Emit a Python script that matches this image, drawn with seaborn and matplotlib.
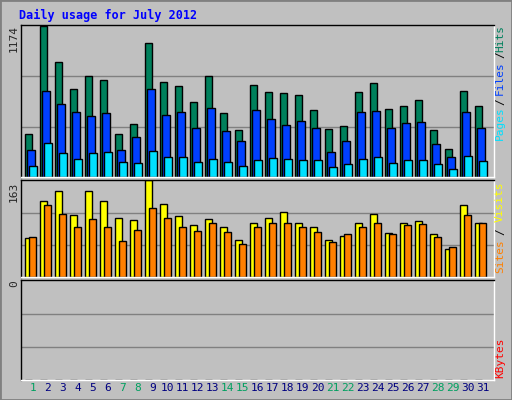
import matplotlib
matplotlib.use("Agg")
import matplotlib.pyplot as plt
import seaborn as sns
import numpy as np

days = list(range(1, 32))
Z = 1174 / 440.0
hits_px = [343,28,133,211,175,187,343,313,79,193,202,250,175,283,331,199,
           220,223,229,274,328,319,220,196,271,262,244,331,385,217,262]
files_px = [388,217,256,280,292,283,388,352,211,289,280,325,268,334,364,274,
            298,316,304,325,394,364,280,277,325,310,307,373,409,280,325]
pages_px = [436,370,397,415,397,394,424,427,391,409,409,424,415,424,436,418,
            412,415,418,418,439,430,415,409,427,418,418,430,445,406,421]
visits_px = [658,550,523,592,523,550,601,607,493,559,595,622,604,628,664,616,
             601,583,613,625,664,652,616,589,643,613,610,646,688,565,613]
sites_px = [655,562,589,625,604,628,667,634,571,601,625,637,616,640,676,628,
            616,616,628,640,670,646,628,613,646,622,619,655,685,592,616]
hits = [round((468 - v) * Z) for v in hits_px]
files = [round((468 - v) * Z) for v in files_px]
pages = [round((468 - v) * Z) for v in pages_px]
visits = [round((770 - v) / 277 * 163) for v in visits_px]
sites = [round((770 - v) / 277 * 163) for v in sites_px]
kbytes = [0] * 31
weekend = [1, 7, 8, 14, 15, 21, 22, 28, 29]

sns.set_style("white")
plt.rcParams['font.family'] = ['DejaVu Sans Mono']
BG = "#C0C0C0"
fig = plt.figure(figsize=(5.12, 4.0), dpi=100, facecolor=BG)
fig.patches.append(plt.Rectangle((0, 0), 1, 1, transform=fig.transFigure,
                                 fill=False, edgecolor="#808080", lw=2))
L, W = 21/512, 473/512
ax1 = fig.add_axes([L, 1-177/400, W, 152/400])
ax2 = fig.add_axes([L, 1-277/400, W, 97/400])
ax3 = fig.add_axes([L, 1-380/400, W, 100/400])
x = np.array(days, dtype=float)
bw = 0.49
kw = dict(width=bw, align="edge", edgecolor="black", linewidth=1)
ax1.bar(x, hits, color="#00805C", **kw)
ax1.bar(x + 0.153, files, color="#0040FF", **kw)
ax1.bar(x + 0.287, pages, color="#00E0FF", **kw)
ax2.bar(x, visits, color="#FFFF00", **kw)
ax2.bar(x + 0.27, sites, color="#FF8000", **kw)
ax3.bar(x, kbytes, color="#FF0000", **kw)
for ax, top in [(ax1, 1174), (ax2, 163), (ax3, 1)]:
    ax.set_facecolor(BG)
    ax.set_xlim(1 - 4/15, 1 + 469/15)
    ax.set_ylim(0, top * 1.005)
    for f in (1/3, 2/3):
        ax.axhline(top * f, color="#808080", lw=1, zorder=0)
    ax.set_xticks([]); ax.set_yticks([])
    for s in ax.spines.values():
        s.set_color("black"); s.set_linewidth(1)
    ax.spines['right'].set_color("white"); ax.spines['bottom'].set_color("white")
for d in days:
    ax3.text(d + 0.53, -0.08, str(d), transform=ax3.get_xaxis_transform(),
             ha="center", va="center", fontsize=8,
             color="#00A060" if d in weekend else "#000080")
fig.text(19/512, 1-15/400, "Daily usage for July 2012", color="#0000FF",
         fontsize=8.5, fontweight="bold", va="center")
for txt, y in [("1174", 38), ("163", 192), ("0", 284)]:
    fig.text(14/512, 1-y/400, txt, rotation=90, ha="center", va="center", fontsize=8)
for txt, y, c in [("Hits", 38, "#00805C"), ("/", 55, "#000000"), ("Files", 78, "#0040FF"),
                  ("/", 102, "#000000"), ("Pages", 123, "#00E0FF"),
                  ("Visits", 202, "#FFFF00"), ("/", 232, "#000000"), ("Sites", 256, "#FF8000"),
                  ("KBytes", 358, "#FF0000")]:
    fig.text(500/512, 1-y/400, txt, rotation=90, ha="center", va="center", fontsize=8, color=c)
fig.savefig("out.png", dpi=100, facecolor=BG)
